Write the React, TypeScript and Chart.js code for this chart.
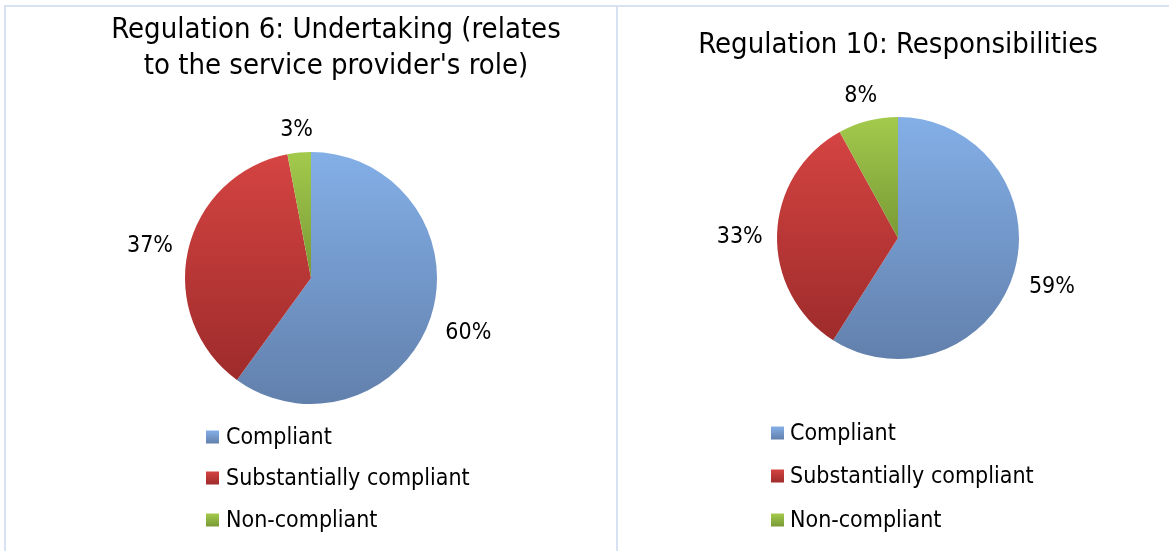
import React, { useEffect, useRef } from "react";
import { Chart, registerables } from "chart.js";

Chart.register(...registerables);

// ---------- data ----------
const categories = ["Compliant", "Substantially compliant", "Non-compliant"];
const reg6Values = [60, 37, 3];
const reg10Values = [59, 33, 8];
const reg6Title = ["Regulation 6: Undertaking (relates", "to the service provider's role)"];
const reg10Title = ["Regulation 10: Responsibilities"];

// ---------- styles ----------
const gradTop = ["#83afe7", "#d44442", "#a3ca4c"];
const gradBottom = ["#6280ac", "#9e2b2b", "#799a36"];
const FONT = '"DejaVu Sans Condensed", Tahoma, "DejaVu Sans", sans-serif';
const BORDER = "#d7e3f3";

type PanelLayout = {
  width: number;
  height: number;
  padding: { left: number; right: number; top: number; bottom: number };
  titleX: number;
  titleY: number[];
  titleSize: number;
  labelSize: number;
  labelGap: number;
  labelDy: number;
  legendBoxX: number;
  legendTextX: number;
  legendY: number[];
  legendSize: number;
  legendBox: number;
};

function sliceExtent(y: number, r: number, a0: number, a1: number) {
  let minY = Math.min(y + r * Math.sin(a0), y + r * Math.sin(a1), y);
  let maxY = Math.max(y + r * Math.sin(a0), y + r * Math.sin(a1), y);
  const inRange = (a: number) => {
    for (let k = -2; k <= 2; k++) {
      const t = a + k * 2 * Math.PI;
      if (t >= a0 && t <= a1) return true;
    }
    return false;
  };
  if (inRange(-Math.PI / 2)) minY = y - r;
  if (inRange(Math.PI / 2)) maxY = y + r;
  if (maxY - minY < 1) maxY = minY + 1;
  return [minY, maxY];
}

function makePlugin(title: string[], values: number[], L: PanelLayout) {
  return {
    id: "panelDecor",
    beforeDatasetsDraw(chart: any) {
      const ctx = chart.ctx;
      const meta = chart.getDatasetMeta(0);
      meta.data.forEach((arc: any, i: number) => {
        const p = arc.getProps(["x", "y", "startAngle", "endAngle", "outerRadius"], true);
        const [y0, y1] = sliceExtent(p.y, p.outerRadius, p.startAngle, p.endAngle);
        const g = ctx.createLinearGradient(0, y0, 0, y1);
        g.addColorStop(0, gradTop[i]);
        g.addColorStop(1, gradBottom[i]);
        if (Object.isFrozen(arc.options)) {
          arc.options = Object.assign({}, arc.options, { backgroundColor: g });
        } else {
          arc.options.backgroundColor = g;
        }
      });
    },
    afterDraw(chart: any) {
      const ctx = chart.ctx;
      ctx.save();
      ctx.fillStyle = "#000";
      // title
      ctx.font = `${L.titleSize}px ${FONT}`;
      ctx.textAlign = "center";
      ctx.textBaseline = "middle";
      title.forEach((line, k) => ctx.fillText(line, L.titleX, L.titleY[k]));
      // data labels
      ctx.font = `${L.labelSize}px ${FONT}`;
      const meta = chart.getDatasetMeta(0);
      meta.data.forEach((arc: any, i: number) => {
        const p = arc.getProps(["x", "y", "startAngle", "endAngle", "outerRadius"], true);
        const mid = (p.startAngle + p.endAngle) / 2;
        const cx = Math.cos(mid);
        const sy = Math.sin(mid);
        const text = `${values[i]}%`;
        const w = ctx.measureText(text).width;
        const h = L.labelSize;
        const off = p.outerRadius + L.labelGap + Math.abs(cx) * w / 2 + Math.abs(sy) * h / 2;
        ctx.fillText(text, p.x + cx * off, p.y + sy * off + L.labelDy);
      });
      // legend
      ctx.font = `${L.legendSize}px ${FONT}`;
      ctx.textAlign = "left";
      categories.forEach((cat, i) => {
        const yc = L.legendY[i];
        const b = L.legendBox;
        const g = ctx.createLinearGradient(0, yc - b / 2, 0, yc + b / 2);
        g.addColorStop(0, gradTop[i]);
        g.addColorStop(1, gradBottom[i]);
        ctx.fillStyle = g;
        ctx.fillRect(L.legendBoxX, yc - b / 2, b, b);
        ctx.fillStyle = "#000";
        ctx.fillText(cat, L.legendTextX, yc + 1);
      });
      ctx.restore();
    },
  };
}

function PiePanel({ title, values, layout, style }: { title: string[]; values: number[]; layout: PanelLayout; style: React.CSSProperties }) {
  const ref = useRef<HTMLCanvasElement | null>(null);
  useEffect(() => {
    if (!ref.current) return;
    const chart = new Chart(ref.current, {
      type: "pie",
      data: {
        labels: categories,
        datasets: [
          {
            data: values,
            backgroundColor: gradTop.slice(),
            borderWidth: 0,
          },
        ],
      },
      options: {
        responsive: false,
        animation: false,
        devicePixelRatio: 1,
        layout: { padding: layout.padding },
        plugins: {
          legend: { display: false },
          title: { display: false },
          tooltip: { enabled: false },
        },
      },
      plugins: [makePlugin(title, values, layout)],
    } as any);
    return () => chart.destroy();
  }, []);
  return <canvas ref={ref} width={layout.width} height={layout.height} style={{ position: "absolute", ...style }} />;
}

const layout6: PanelLayout = {
  width: 610,
  height: 544,
  padding: { left: 179, right: 179, top: 145, bottom: 147 },
  titleX: 330,
  titleY: [23, 59],
  titleSize: 29,
  labelSize: 23,
  labelGap: 14,
  labelDy: 4,
  legendBoxX: 200,
  legendTextX: 220,
  legendY: [430, 471, 513],
  legendSize: 23,
  legendBox: 13,
};

const layout10: PanelLayout = {
  width: 551,
  height: 544,
  padding: { left: 159, right: 150, top: 110, bottom: 192 },
  titleX: 280,
  titleY: [38],
  titleSize: 29,
  labelSize: 23,
  labelGap: 14,
  labelDy: 4,
  legendBoxX: 153,
  legendTextX: 172,
  legendY: [426, 469, 513],
  legendSize: 23,
  legendBox: 13,
};

export default function App() {
  return (
    <div style={{ position: "absolute", left: 0, top: 0, width: 1169, height: 551, background: "#fff", overflow: "hidden" }}>
      <div style={{ position: "absolute", left: 4, top: 5, width: 1165, height: 2, background: BORDER }} />
      <div style={{ position: "absolute", left: 4, top: 5, width: 2, height: 546, background: BORDER }} />
      <div style={{ position: "absolute", left: 616, top: 5, width: 2, height: 546, background: BORDER }} />
      <PiePanel title={reg6Title} values={reg6Values} layout={layout6} style={{ left: 6, top: 7 }} />
      <PiePanel title={reg10Title} values={reg10Values} layout={layout10} style={{ left: 618, top: 7 }} />
    </div>
  );
}
